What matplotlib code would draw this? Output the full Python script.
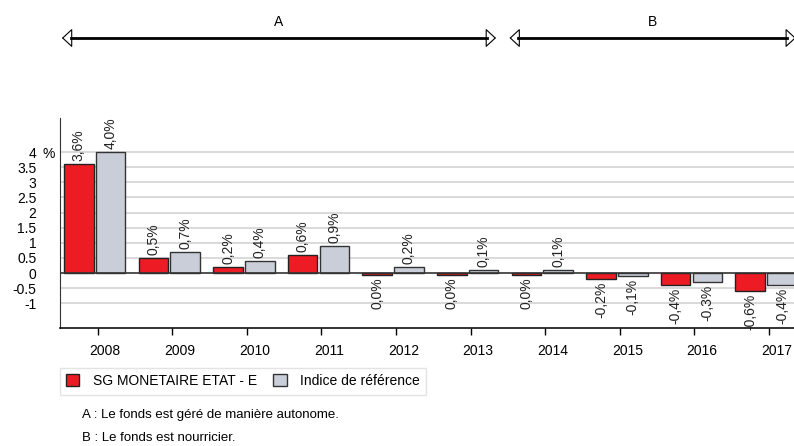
import matplotlib.pyplot as plt
from matplotlib.lines import Line2D
from matplotlib.patches import Patch
from matplotlib.transforms import blended_transform_factory

plt.rcParams["font.family"] = ["Liberation Sans", "DejaVu Sans"]
plt.rcParams["font.size"] = 9.5

# Data
years = ["2008", "2009", "2010", "2011", "2012", "2013", "2014", "2015", "2016", "2017"]
fund = [3.6, 0.5, 0.2, 0.6, -0.05, -0.05, -0.05, -0.2, -0.4, -0.6]
index = [4.0, 0.7, 0.4, 0.9, 0.2, 0.1, 0.1, -0.1, -0.3, -0.4]
fund_labels = ["3,6%", "0,5%", "0,2%", "0,6%", "0,0%", "0,0%", "0,0%", "-0,2%", "-0,4%", "-0,6%"]
index_labels = ["4,0%", "0,7%", "0,4%", "0,9%", "0,2%", "0,1%", "0,1%", "-0,1%", "-0,3%", "-0,4%"]
yticks = [-1, -0.5, 0, 0.5, 1, 1.5, 2, 2.5, 3, 3.5, 4]
ytick_labels = ["-1", "-0.5", "0", "0.5", "1", "1.5", "2", "2.5", "3", "3.5", "4"]
periods = [("A", "2008", "2013"), ("B", "2014", "2017")]
fund_name = "SG MONETAIRE ETAT - E"
index_name = "Indice de référence"
notes = ["A : Le fonds est géré de manière autonome.", "B : Le fonds est nourricier."]

red = "#ed1c24"
grey = "#c9ced8"

fig = plt.figure(figsize=(7.94, 4.46), dpi=100)
ax = fig.add_axes([60 / 794, 1 - 328 / 446, 734 / 794, 210 / 446])

x = list(range(len(years)))
w = 0.395
off = 0.213

# grid lines
for yv in yticks:
    if yv == 0:
        continue
    ax.axhline(yv, color="#d9d9d9", lw=1.4, zorder=0)
ax.axhline(0, color="#333333", lw=1.2, zorder=3)

b1 = ax.bar([i - off for i in x], fund, w, color=red, edgecolor="#222222", lw=1.0, zorder=2)
b2 = ax.bar([i + off for i in x], index, w, color=grey, edgecolor="#333333", lw=1.0, zorder=2)

for bars, labels in ((b1, fund_labels), (b2, index_labels)):
    for rect, lab in zip(bars, labels):
        h = rect.get_height()
        xc = rect.get_x() + rect.get_width() / 2
        if h >= 0 and not lab.startswith("0,0"):
            ax.annotate(lab, (xc, h), xytext=(0, 2.2), textcoords="offset points",
                        rotation=90, ha="center", va="bottom", fontsize=10, color="#222222")
        else:
            ax.annotate(lab, (xc, min(h, 0)), xytext=(0, -2.2), textcoords="offset points",
                        rotation=90, ha="center", va="top", fontsize=10, color="#222222")

ax.set_xlim(-0.465, 9.374)
ax.set_ylim(-1.82, 5.13)

ax.set_yticks(yticks)
ax.set_yticklabels(ytick_labels)
ax.tick_params(axis="y", length=0, pad=17, labelsize=10)
ax.text(-18 / 734, 4, "%", transform=blended_transform_factory(ax.transAxes, ax.transData),
        ha="left", va="center_baseline", fontsize=10)

ax.set_xticks([i + 0.04 for i in x])
ax.set_xticklabels([""] * len(x))
ax.tick_params(axis="x", length=5, width=1, direction="out")
tb = blended_transform_factory(ax.transData, fig.transFigure)
for i, yr in zip(x, years):
    ax.text(i + 0.14, 1 - 351 / 446, yr, transform=tb, ha="center", va="center", fontsize=10)

for side in ("top", "right"):
    ax.spines[side].set_visible(False)
ax.spines["left"].set_color("#333333")
ax.spines["bottom"].set_color("#111111")
ax.spines["bottom"].set_linewidth(1.2)

# period arrows: thick shaft + open triangle heads
ya = 1 - 38 / 446
hl = 9 / 74.6
for name, start, end in periods:
    x0 = years.index(start) - 0.44
    x1 = years.index(end) + 0.38
    if end == years[-1]:
        x1 = years.index(end) + 0.40
    fig.add_artist(Line2D([x0 + hl, x1 - hl], [ya, ya], transform=tb, color="black", lw=2))
    for tip, base in ((x0, x0 + hl), (x1, x1 - hl)):
        ax.annotate("", xy=(tip, ya), xytext=(base, ya), xycoords=tb, textcoords=tb,
                    annotation_clip=False,
                    arrowprops=dict(arrowstyle="-|>,head_length=0.65,head_width=0.6",
                                    mutation_scale=10, fc="white", ec="black", lw=0.8,
                                    shrinkA=0, shrinkB=0))
    ax.text((x0 + x1) / 2, 1 - 22 / 446, name, transform=tb, ha="center", va="center", fontsize=10)

handles = [Patch(facecolor=red, edgecolor="#222222", label=fund_name),
           Patch(facecolor=grey, edgecolor="#333333", label=index_name)]
leg = fig.legend(handles=handles, loc="upper left", bbox_to_anchor=(60 / 794, 1 - 368 / 446),
                 ncol=2, frameon=True, fancybox=False, borderaxespad=0, fontsize=10,
                 handlelength=0.95, handleheight=0.95, handletextpad=0.95, columnspacing=1.2,
                 borderpad=0.45)
leg.get_frame().set_edgecolor("#dddddd")
leg.get_frame().set_linewidth(1.0)

fig.text(82 / 794, 1 - 415 / 446, notes[0], ha="left", va="center", fontsize=9.5)
fig.text(82 / 794, 1 - 438 / 446, notes[1], ha="left", va="center", fontsize=9.5)

fig.savefig("out.png", dpi=100)
